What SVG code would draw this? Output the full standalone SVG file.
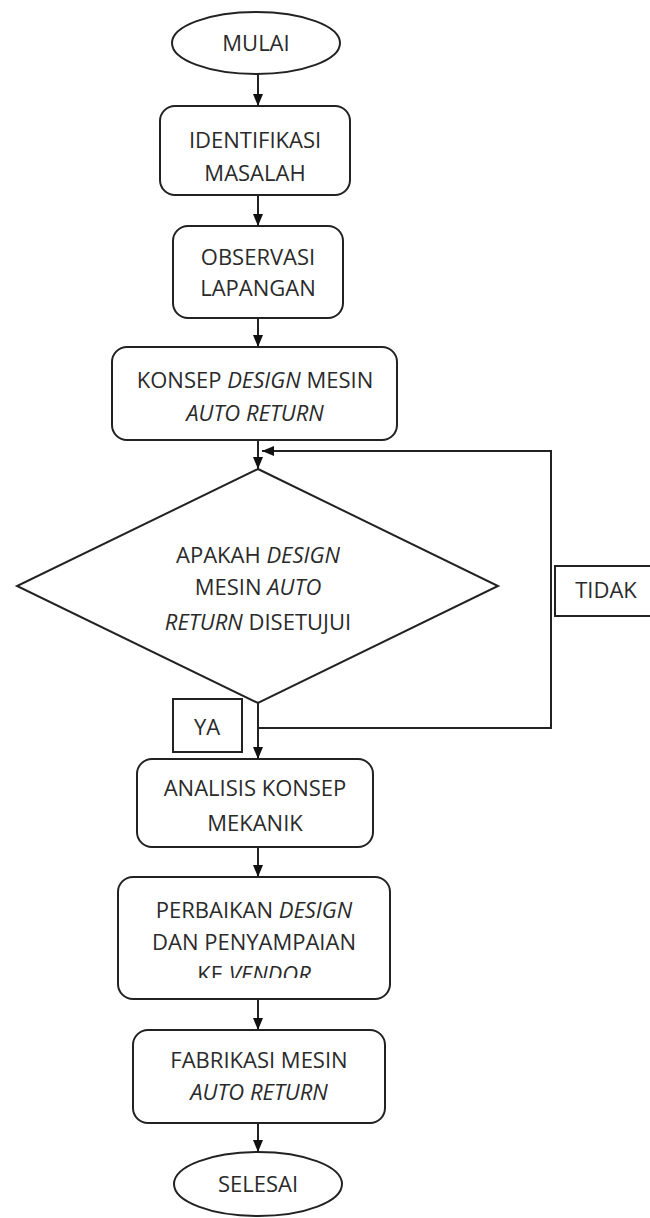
<svg xmlns="http://www.w3.org/2000/svg" width="650" height="1218" viewBox="0 0 650 1218">
<style>
.shape{fill:#fff;stroke:#222;stroke-width:2}
.lbl{fill:#fff;stroke:#222;stroke-width:2}
.t{font-family:"Open Sans","DejaVu Sans",sans-serif;font-size:22px;fill:#2a2a2a;text-anchor:middle}
.i{font-style:italic}
.c{fill:none;stroke:#222;stroke-width:2}
</style>
<defs>
<marker id="ah" viewBox="0 0 12 10" refX="12" refY="5" markerWidth="12" markerHeight="10" markerUnits="userSpaceOnUse" orient="auto">
<path d="M0,0 L12,5 L0,10 z" fill="#111"/>
</marker>
<clipPath id="clipKe"><rect x="100" y="880" width="300" height="98"/></clipPath>
</defs>
<rect width="650" height="1218" fill="#fff"/>

<g id="connectors">
<path class="c" d="M258,74 L258,106" marker-end="url(#ah)"/>
<path class="c" d="M258,195 L258,226" marker-end="url(#ah)"/>
<path class="c" d="M258,318 L258,347" marker-end="url(#ah)"/>
<path class="c" d="M258,440 L258,469" marker-end="url(#ah)"/>
<path class="c" d="M258,703 L258,759" marker-end="url(#ah)"/>
<path class="c" d="M258,728 L551,728 L551,451 L262,451" marker-end="url(#ah)"/>
<path class="c" d="M258,847 L258,877" marker-end="url(#ah)"/>
<path class="c" d="M258,999 L258,1030" marker-end="url(#ah)"/>
<path class="c" d="M258,1123 L258,1152" marker-end="url(#ah)"/>
</g>

<g id="mulai">
<ellipse class="shape" cx="256" cy="43" rx="84" ry="31"/>
<text class="t" x="256" y="51">MULAI</text>
</g>

<g id="identifikasi">
<rect class="shape" x="160" y="106" width="190" height="89" rx="15"/>
<text class="t" x="255" y="148">IDENTIFIKASI</text>
<text class="t" x="255" y="181">MASALAH</text>
</g>

<g id="observasi">
<rect class="shape" x="173" y="226" width="170" height="92" rx="15"/>
<text class="t" x="258" y="265">OBSERVASI</text>
<text class="t" x="258" y="296">LAPANGAN</text>
</g>

<g id="konsep">
<rect class="shape" x="112" y="347" width="285" height="93" rx="15"/>
<text class="t" x="255" y="388">KONSEP <tspan class="i">DESIGN</tspan> MESIN</text>
<text class="t i" x="255" y="421">AUTO RETURN</text>
</g>

<g id="keputusan">
<polygon class="shape" points="258,469 498,586 258,703 17,586"/>
<text class="t" x="258" y="563">APAKAH <tspan class="i">DESIGN</tspan></text>
<text class="t" x="258" y="595">MESIN <tspan class="i">AUTO</tspan></text>
<text class="t" x="258" y="630"><tspan class="i">RETURN</tspan> DISETUJUI</text>
</g>

<g id="label-ya">
<rect class="lbl" x="173" y="699" width="69" height="53"/>
<text class="t" x="207" y="735">YA</text>
</g>

<g id="label-tidak">
<rect class="lbl" x="555" y="566" width="100" height="50"/>
<text class="t" x="606" y="598">TIDAK</text>
</g>

<g id="analisis">
<rect class="shape" x="137" y="759" width="236" height="88" rx="15"/>
<text class="t" x="255" y="796">ANALISIS KONSEP</text>
<text class="t" x="255" y="831">MEKANIK</text>
</g>

<g id="perbaikan">
<rect class="shape" x="118" y="877" width="272" height="122" rx="15"/>
<text class="t" x="254" y="918">PERBAIKAN <tspan class="i">DESIGN</tspan></text>
<text class="t" x="254" y="950">DAN PENYAMPAIAN</text>
<text class="t" x="254" y="982" clip-path="url(#clipKe)">KE <tspan class="i">VENDOR</tspan></text>
</g>

<g id="fabrikasi">
<rect class="shape" x="133" y="1030" width="252" height="93" rx="15"/>
<text class="t" x="259" y="1068">FABRIKASI MESIN</text>
<text class="t i" x="259" y="1100">AUTO RETURN</text>
</g>

<g id="selesai">
<ellipse class="shape" cx="258" cy="1184" rx="84" ry="32"/>
<text class="t" x="258" y="1192">SELESAI</text>
</g>
</svg>
